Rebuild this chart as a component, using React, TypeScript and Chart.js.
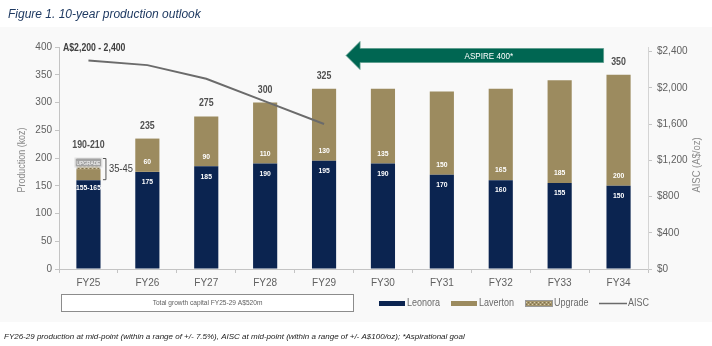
import React, { useEffect, useRef } from "react";
import { Chart, registerables } from "chart.js";

Chart.register(...registerables);

const categories = ["FY25", "FY26", "FY27", "FY28", "FY29", "FY30", "FY31", "FY32", "FY33", "FY34"];
const leonora = [160, 175, 185, 190, 195, 190, 170, 160, 155, 150];
const laverton = [20, 60, 90, 110, 130, 135, 150, 165, 185, 200];
const upgrade = [20, null, null, null, null, null, null, null, null, null];
const aisc = [2300, 2250, 2100, 1850, 1600, null, null, null, null, null];
const leonoraLabels = ["155-165", "175", "185", "190", "195", "190", "170", "160", "155", "150"];
const lavertonLabels = ["", "60", "90", "110", "130", "135", "150", "165", "185", "200"];
const totalLabels = ["190-210", "235", "275", "300", "325", "", "", "", "", "350"];
const aiscTicks = [0, 400, 800, 1200, 1600, 2000, 2400];
const aiscRangeLabel = "A$2,200 - 2,400";
const upgradeRangeLabel = "35-45";
const arrowLabel = "ASPIRE 400*";
const capitalLabel = "Total growth capital FY25-29 A$520m";
const titleText = "Figure 1. 10-year production outlook";
const footnote =
  "FY26-29 production at mid-point (within a range of +/- 7.5%), AISC at mid-point (within a range of +/- A$100/oz); *Aspirational goal";

const FONT = "'Liberation Sans', Arial, sans-serif";
const NAVY = "#0b2450";
const TAN = "#9c8b5f";
const GREEN = "#006652";
const LINE = "#6b6b6b";

function makePattern(): CanvasPattern | string {
  const c = document.createElement("canvas");
  c.width = 4;
  c.height = 4;
  const g = c.getContext("2d");
  if (!g) return TAN;
  g.fillStyle = "#a4946a";
  g.fillRect(0, 0, 4, 4);
  g.fillStyle = "#d6ccae";
  g.fillRect(0, 0, 1, 1);
  g.fillRect(2, 2, 1, 1);
  g.fillStyle = "#7d7050";
  g.fillRect(2, 0, 1, 1);
  g.fillRect(0, 2, 1, 1);
  return g.createPattern(c, "repeat") || TAN;
}

function nText(ctx: CanvasRenderingContext2D, text: string, x: number, y: number, sx: number, align: CanvasTextAlign) {
  ctx.save();
  ctx.translate(x, y);
  ctx.scale(sx, 1);
  ctx.textAlign = align;
  ctx.textBaseline = "middle";
  ctx.fillText(text, 0, 0);
  ctx.restore();
}

export default function App() {
  const ref = useRef<HTMLCanvasElement | null>(null);

  useEffect(() => {
    const canvas = ref.current;
    if (!canvas) return;
    const pattern = makePattern();

    const annot = {
      id: "annot",
      beforeDraw(chart: any) {
        const ctx = chart.ctx;
        ctx.save();
        ctx.fillStyle = "#ffffff";
        ctx.fillRect(0, 0, chart.width, chart.height);
        ctx.fillStyle = "#f9f9f9";
        ctx.fillRect(0, 27, chart.width, 295);
        ctx.restore();
      },
      afterDatasetsDraw(chart: any) {
        const ctx = chart.ctx;
        const m0 = chart.getDatasetMeta(0);
        const m1 = chart.getDatasetMeta(1);
        const m2 = chart.getDatasetMeta(2);
        ctx.save();
        for (let i = 0; i < categories.length; i++) {
          const b0 = m0.data[i];
          const b1 = m1.data[i];
          ctx.fillStyle = "#ffffff";
          ctx.font = `bold 8px ${FONT}`;
          if (leonoraLabels[i]) nText(ctx, leonoraLabels[i], b0.x, b0.y + (i === 0 ? 8 : 10), 0.85, "center");
          if (lavertonLabels[i]) nText(ctx, lavertonLabels[i], b1.x, b1.base - 10, 0.85, "center");
          let top = b1.y;
          if (upgrade[i] != null && m2.data[i]) top = m2.data[i].y;
          if (totalLabels[i]) {
            ctx.fillStyle = "#505050";
            ctx.font = `bold 11px ${FONT}`;
            nText(ctx, totalLabels[i], b0.x, top - 13, 0.8, "center");
          }
        }
        // upgrade tag
        const u = m2.data[0];
        if (u) {
          const cy = (u.y + u.base) / 2 - 1;
          ctx.fillStyle = "#a3a3a3";
          ctx.fillRect(u.x - 13, cy - 4, 26, 8);
          ctx.strokeStyle = "#e0e0e0";
          ctx.lineWidth = 1;
          ctx.strokeRect(u.x - 13.5, cy - 4.5, 27, 9);
          ctx.fillStyle = "#ffffff";
          ctx.font = `6px ${FONT}`;
          nText(ctx, "UPGRADE", u.x, cy + 0.5, 0.8, "center");
          // bracket
          const bx = u.x + 17.5;
          const t = u.y;
          const b = m0.data[0].y;
          ctx.strokeStyle = "#555555";
          ctx.beginPath();
          ctx.moveTo(bx - 3, t + 0.5);
          ctx.lineTo(bx, t + 0.5);
          ctx.lineTo(bx, b - 0.5);
          ctx.lineTo(bx - 3, b - 0.5);
          ctx.stroke();
          ctx.fillStyle = "#404040";
          ctx.font = `11px ${FONT}`;
          nText(ctx, upgradeRangeLabel, bx + 3, (t + b) / 2, 0.85, "left");
        }
        ctx.restore();
      },
      afterDraw(chart: any) {
        const ctx = chart.ctx;
        const xs = chart.scales.x;
        const ys = chart.scales.y1;
        const area = chart.chartArea;
        ctx.save();
        // AISC range label
        ctx.fillStyle = "#404040";
        ctx.font = `bold 10px ${FONT}`;
        nText(ctx, aiscRangeLabel, area.left + 4, ys.getPixelForValue(2400) - 3, 0.87, "left");

        // arrow
        const tipX = xs.getPixelForValue(4) + 22;
        const endX = xs.getPixelForValue(9) - 15;
        const midY = 55.5;
        ctx.fillStyle = GREEN;
        ctx.strokeStyle = "#5a9a8a";
        ctx.lineWidth = 0.8;
        ctx.beginPath();
        ctx.moveTo(tipX, midY);
        ctx.lineTo(tipX + 14, midY - 14);
        ctx.lineTo(tipX + 14, midY - 7);
        ctx.lineTo(endX, midY - 7);
        ctx.lineTo(endX, midY + 7);
        ctx.lineTo(tipX + 14, midY + 7);
        ctx.lineTo(tipX + 14, midY + 14);
        ctx.closePath();
        ctx.fill();
        ctx.stroke();
        ctx.fillStyle = "#ffffff";
        ctx.font = `9.5px ${FONT}`;
        nText(ctx, arrowLabel, (tipX + endX) / 2 + 14, midY + 0.5, 0.85, "center");

        // axis titles
        ctx.fillStyle = "#8a8a8a";
        ctx.font = `10.5px ${FONT}`;
        ctx.save();
        ctx.translate(22, (area.top + area.bottom) / 2 + 2);
        ctx.rotate(-Math.PI / 2);
        nText(ctx, "Production (koz)", 0, 0, 0.85, "center");
        ctx.restore();
        ctx.save();
        ctx.translate(697, (area.top + area.bottom) / 2 + 7);
        ctx.rotate(-Math.PI / 2);
        nText(ctx, "AISC (A$/oz)", 0, 0, 0.9, "center");
        ctx.restore();

        // capital box
        ctx.strokeStyle = "#8c8c8c";
        ctx.lineWidth = 1;
        ctx.fillStyle = "#ffffff";
        ctx.fillRect(61.5, 294.5, 292, 17);
        ctx.strokeRect(61.5, 294.5, 292, 17);
        ctx.fillStyle = "#606060";
        ctx.font = `7px ${FONT}`;
        nText(ctx, capitalLabel, 207.5, 303, 0.94, "center");

        // legend
        const ly = 303.5;
        ctx.font = `10px ${FONT}`;
        ctx.fillStyle = NAVY;
        ctx.fillRect(379, ly - 2.5, 26, 5);
        ctx.fillStyle = "#6a6a6a";
        nText(ctx, "Leonora", 407, ly, 0.9, "left");
        ctx.fillStyle = TAN;
        ctx.fillRect(451, ly - 2.5, 26, 5);
        ctx.fillStyle = "#6a6a6a";
        nText(ctx, "Laverton", 479, ly, 0.9, "left");
        ctx.fillStyle = pattern as any;
        ctx.fillRect(525, ly - 2.5, 27, 5);
        ctx.strokeStyle = "#999999";
        ctx.lineWidth = 1;
        ctx.strokeRect(525.5, ly - 3, 27, 6);
        ctx.fillStyle = "#6a6a6a";
        nText(ctx, "Upgrade", 554, ly, 0.9, "left");
        ctx.strokeStyle = LINE;
        ctx.lineWidth = 1.5;
        ctx.beginPath();
        ctx.moveTo(599, ly);
        ctx.lineTo(627, ly);
        ctx.stroke();
        nText(ctx, "AISC", 628, ly, 0.9, "left");

        // title
        ctx.fillStyle = "#1f3a62";
        ctx.font = `italic 12px ${FONT}`;
        ctx.textAlign = "left";
        ctx.textBaseline = "middle";
        ctx.fillText(titleText, 8, 15);

        // footnote
        ctx.fillStyle = "#222222";
        ctx.font = `italic 8px ${FONT}`;
        ctx.fillText(footnote, 4, 337);
        ctx.restore();
      },
    };

    const chart = new Chart(canvas, {
      type: "bar",
      data: {
        labels: categories,
        datasets: [
          { label: "Leonora", data: leonora, backgroundColor: NAVY, stack: "p", order: 1 } as any,
          { label: "Laverton", data: laverton, backgroundColor: TAN, stack: "p", order: 1 } as any,
          {
            label: "Upgrade",
            data: upgrade,
            backgroundColor: pattern,
            borderColor: "#9a9a9a",
            borderWidth: 1,
            stack: "p",
            order: 1,
          } as any,
          {
            type: "line",
            label: "AISC",
            data: aisc,
            yAxisID: "y1",
            borderColor: LINE,
            borderWidth: 2,
            pointRadius: 0,
            tension: 0,
            order: 0,
          } as any,
        ],
      },
      options: {
        responsive: false,
        animation: false,
        devicePixelRatio: 1,
        layout: { padding: { top: 47, left: 0, right: 0, bottom: 0 } },
        plugins: { legend: { display: false }, tooltip: { enabled: false }, title: { display: false } },
        datasets: { bar: { categoryPercentage: 1, barPercentage: 0.41 } },
        scales: {
          x: {
            stacked: true,
            offset: true,
            grid: { offset: true, drawOnChartArea: false, tickLength: 4, color: "#c4c4c4" },
            border: { color: "#c4c4c4" },
            ticks: { color: "#606060", font: { size: 10, family: FONT }, padding: 4, maxRotation: 0 },
            afterFit: (s: any) => {
              s.height = 77;
            },
          },
          y: {
            stacked: true,
            min: 0,
            max: 400,
            grid: { drawOnChartArea: false, tickLength: 4, color: "#c4c4c4" },
            border: { color: "#c4c4c4" },
            ticks: { stepSize: 50, color: "#606060", font: { size: 10, family: FONT }, padding: 3 },
            afterFit: (s: any) => {
              s.width = 59;
            },
          },
          y1: {
            position: "right",
            min: 0,
            max: 2450,
            grid: { drawOnChartArea: false, tickLength: 4, color: "#c4c4c4" },
            border: { color: "#d4d4d4" },
            afterBuildTicks: (s: any) => {
              s.ticks = aiscTicks.map((v) => ({ value: v }));
            },
            ticks: {
              color: "#606060",
              font: { size: 10, family: FONT },
              padding: 5,
              callback: (v: any) => "$" + Number(v).toLocaleString("en-US"),
            },
            afterFit: (s: any) => {
              s.width = 64;
            },
          },
        },
      },
      plugins: [annot],
    });

    return () => chart.destroy();
  }, []);

  return (
    <div style={{ position: "fixed", left: 0, top: 0, width: 712, height: 346 }}>
      <canvas ref={ref} width={712} height={346} style={{ width: 712, height: 346, display: "block" }} />
    </div>
  );
}
